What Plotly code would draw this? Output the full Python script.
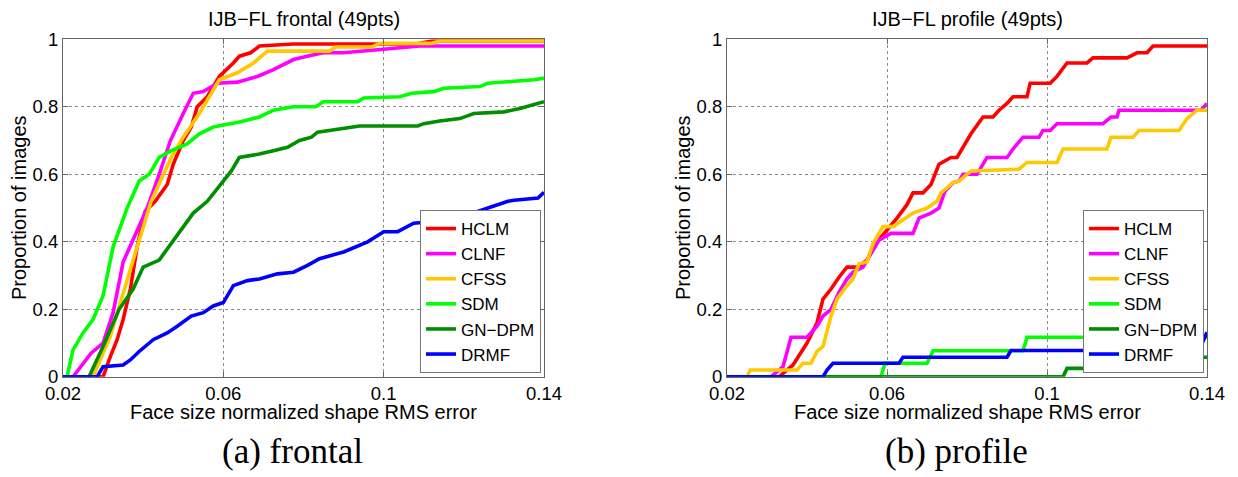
import plotly.graph_objects as go

METHODS = ["HCLM", "CLNF", "CFSS", "SDM", "GN−DPM", "DRMF"]
COLORS = ["#FF0000", "#FF00FF", "#FFC800", "#00FF00", "#008F00", "#0000FF"]

X_TICKS = [0.02, 0.06, 0.1, 0.14]
X_TICK_TEXT = ["0.02", "0.06", "0.1", "0.14"]
Y_TICKS = [0, 0.2, 0.4, 0.6, 0.8, 1]
Y_TICK_TEXT = ["0", "0.2", "0.4", "0.6", "0.8", "1"]

# ---- frontal ----
HCLM_F_X = [0.02, 0.030, 0.0318, 0.0335, 0.035, 0.0368, 0.0385, 0.0405, 0.043, 0.046, 0.0475, 0.050, 0.052, 0.0535, 0.056, 0.059, 0.0625, 0.064, 0.0668, 0.069, 0.0775, 0.108, 0.112, 0.14]
HCLM_F_Y = [0, 0, 0.06, 0.11, 0.17, 0.26, 0.385, 0.49, 0.52, 0.57, 0.63, 0.70, 0.74, 0.80, 0.83, 0.89, 0.93, 0.95, 0.96, 0.98, 0.986, 0.986, 0.995, 0.995]
CLNF_F_X = [0.02, 0.0225, 0.027, 0.030, 0.0325, 0.035, 0.038, 0.041, 0.044, 0.0468, 0.050, 0.0525, 0.055, 0.0585, 0.0635, 0.0685, 0.0725, 0.0775, 0.082, 0.085, 0.09, 0.0985, 0.109, 0.14]
CLNF_F_Y = [0, 0, 0.07, 0.10, 0.19, 0.34, 0.42, 0.50, 0.60, 0.70, 0.78, 0.84, 0.845, 0.87, 0.873, 0.89, 0.91, 0.94, 0.953, 0.96, 0.96, 0.97, 0.98, 0.98]
CFSS_F_X = [0.02, 0.0275, 0.0318, 0.035, 0.0385, 0.042, 0.047, 0.050, 0.054, 0.059, 0.0634, 0.0675, 0.071, 0.0865, 0.088, 0.097, 0.099, 0.112, 0.114, 0.14]
CFSS_F_Y = [0, 0, 0.12, 0.25, 0.385, 0.52, 0.65, 0.71, 0.78, 0.88, 0.90, 0.93, 0.965, 0.965, 0.977, 0.977, 0.988, 0.988, 0.995, 0.995]
SDM_F_X = [0.02, 0.021, 0.0225, 0.025, 0.0275, 0.030, 0.0325, 0.036, 0.039, 0.0415, 0.044, 0.047, 0.051, 0.054, 0.0575, 0.064, 0.069, 0.0725, 0.0775, 0.083, 0.085, 0.0935, 0.095, 0.104, 0.107, 0.1125, 0.115, 0.124, 0.126, 0.13, 0.1375, 0.14]
SDM_F_Y = [0, 0, 0.08, 0.13, 0.17, 0.24, 0.385, 0.50, 0.58, 0.60, 0.65, 0.67, 0.69, 0.72, 0.74, 0.755, 0.77, 0.79, 0.80, 0.80, 0.815, 0.815, 0.826, 0.83, 0.84, 0.845, 0.855, 0.86, 0.87, 0.873, 0.88, 0.885]
GN_F_X = [0.02, 0.0265, 0.030, 0.0325, 0.034, 0.0375, 0.040, 0.044, 0.047, 0.050, 0.0525, 0.056, 0.06, 0.062, 0.064, 0.069, 0.0725, 0.076, 0.079, 0.082, 0.0835, 0.089, 0.094, 0.1085, 0.11, 0.114, 0.119, 0.1225, 0.13, 0.134, 0.137, 0.14]
GN_F_Y = [0, 0, 0.09, 0.16, 0.20, 0.26, 0.325, 0.346, 0.395, 0.44, 0.485, 0.52, 0.58, 0.61, 0.65, 0.66, 0.67, 0.68, 0.70, 0.71, 0.725, 0.735, 0.743, 0.743, 0.75, 0.758, 0.765, 0.78, 0.785, 0.795, 0.805, 0.815]
DRMF_F_X = [0.02, 0.0285, 0.030, 0.035, 0.0368, 0.039, 0.0425, 0.046, 0.0485, 0.052, 0.055, 0.0575, 0.06, 0.0625, 0.066, 0.069, 0.0735, 0.0775, 0.081, 0.084, 0.09, 0.096, 0.1, 0.1035, 0.1075, 0.1125, 0.1175, 0.121, 0.126, 0.131, 0.1325, 0.1385, 0.14]
DRMF_F_Y = [0, 0, 0.03, 0.035, 0.05, 0.075, 0.11, 0.13, 0.15, 0.18, 0.19, 0.21, 0.22, 0.27, 0.285, 0.29, 0.305, 0.31, 0.33, 0.35, 0.37, 0.40, 0.43, 0.43, 0.455, 0.46, 0.46, 0.48, 0.50, 0.52, 0.523, 0.53, 0.547]

# ---- profile ----
HCLM_P_X = [0.02, 0.033, 0.0365, 0.040, 0.0425, 0.044, 0.046, 0.048, 0.050, 0.0525, 0.055, 0.0565, 0.06, 0.0625, 0.065, 0.0665, 0.069, 0.071, 0.073, 0.076, 0.0775, 0.079, 0.081, 0.084, 0.0865, 0.088, 0.09, 0.0915, 0.095, 0.0958, 0.1008, 0.1025, 0.105, 0.11, 0.1115, 0.12, 0.1225, 0.125, 0.1265, 0.14]
HCLM_P_Y = [0, 0, 0.035, 0.10, 0.16, 0.23, 0.26, 0.295, 0.325, 0.325, 0.345, 0.385, 0.435, 0.47, 0.51, 0.545, 0.545, 0.57, 0.63, 0.65, 0.65, 0.68, 0.72, 0.77, 0.77, 0.79, 0.81, 0.83, 0.83, 0.87, 0.87, 0.89, 0.93, 0.93, 0.945, 0.945, 0.96, 0.96, 0.98, 0.98]
CLNF_P_X = [0.02, 0.031, 0.034, 0.036, 0.040, 0.0425, 0.044, 0.046, 0.048, 0.050, 0.0515, 0.054, 0.0565, 0.058, 0.061, 0.0665, 0.068, 0.071, 0.073, 0.0745, 0.0765, 0.078, 0.079, 0.0825, 0.085, 0.09, 0.0915, 0.094, 0.098, 0.099, 0.1008, 0.1025, 0.114, 0.116, 0.1175, 0.118, 0.1385, 0.14]
CLNF_P_Y = [0, 0, 0.03, 0.117, 0.117, 0.15, 0.18, 0.20, 0.25, 0.29, 0.31, 0.325, 0.375, 0.405, 0.425, 0.425, 0.47, 0.485, 0.50, 0.55, 0.575, 0.58, 0.60, 0.60, 0.65, 0.65, 0.675, 0.71, 0.71, 0.73, 0.73, 0.75, 0.75, 0.77, 0.77, 0.79, 0.79, 0.81]
CFSS_P_X = [0.02, 0.025, 0.0258, 0.0375, 0.039, 0.041, 0.0425, 0.044, 0.046, 0.0475, 0.050, 0.0515, 0.053, 0.055, 0.0565, 0.059, 0.0615, 0.064, 0.0665, 0.07, 0.0725, 0.0735, 0.0765, 0.078, 0.081, 0.093, 0.095, 0.1025, 0.104, 0.115, 0.116, 0.1215, 0.123, 0.133, 0.135, 0.1375, 0.14]
CFSS_P_Y = [0, 0, 0.02, 0.02, 0.04, 0.04, 0.075, 0.09, 0.18, 0.23, 0.27, 0.29, 0.335, 0.34, 0.395, 0.445, 0.445, 0.465, 0.485, 0.50, 0.52, 0.545, 0.575, 0.58, 0.61, 0.615, 0.635, 0.635, 0.675, 0.675, 0.71, 0.71, 0.73, 0.73, 0.765, 0.79, 0.79]
SDM_P_X = [0.02, 0.0585, 0.0595, 0.07, 0.0715, 0.094, 0.095, 0.14]
SDM_P_Y = [0, 0, 0.04, 0.04, 0.077, 0.077, 0.117, 0.117]
GN_P_X = [0.02, 0.104, 0.105, 0.135, 0.137, 0.14]
GN_P_Y = [0, 0, 0.025, 0.025, 0.058, 0.058]
DRMF_P_X = [0.02, 0.044, 0.045, 0.0465, 0.063, 0.064, 0.09, 0.091, 0.138, 0.14]
DRMF_P_Y = [0, 0, 0.02, 0.04, 0.04, 0.058, 0.058, 0.078, 0.078, 0.132]

FRONTAL = [(HCLM_F_X, HCLM_F_Y), (CLNF_F_X, CLNF_F_Y), (CFSS_F_X, CFSS_F_Y),
           (SDM_F_X, SDM_F_Y), (GN_F_X, GN_F_Y), (DRMF_F_X, DRMF_F_Y)]
PROFILE = [(HCLM_P_X, HCLM_P_Y), (CLNF_P_X, CLNF_P_Y), (CFSS_P_X, CFSS_P_Y),
           (SDM_P_X, SDM_P_Y), (GN_P_X, GN_P_Y), (DRMF_P_X, DRMF_P_Y)]

TITLES = ["IJB−FL frontal (49pts)", "IJB−FL profile (49pts)"]
CAPTIONS = ["(a) frontal", "(b) profile"]
XLABEL = "Face size normalized shape RMS error"
YLABEL = "Proportion of images"

# The page body has an 8px default margin: size the figure to fit the window
OFF = 8
W, H = 1238 - OFF, 477 - OFF
SANS = "Liberation Sans, Arial, sans-serif"
SERIF = "Liberation Serif, Times New Roman, serif"


def fx(x_page):
    return (x_page - OFF) / W


def fy(y_page):
    return (H - (y_page - OFF)) / H


fig = go.Figure()
for panel, (data, xa, ya, leg) in enumerate([(FRONTAL, "x", "y", "legend"), (PROFILE, "x2", "y2", "legend2")]):
    for name, color, (xs, ys) in zip(METHODS, COLORS, data):
        fig.add_trace(go.Scatter(
            x=xs, y=ys, mode="lines", name=name, xaxis=xa, yaxis=ya, legend=leg,
            line=dict(color=color, width=3.6), cliponaxis=False, hoverinfo="skip"))

px_dom = [(63, 544), (727, 1207)]
y_dom = [fy(376.8), fy(39.3)]

axis_common = dict(
    showline=True, linecolor="#666666", linewidth=1, mirror="ticks",
    ticks="inside", ticklen=5, tickcolor="#666666", tickwidth=1,
    showgrid=True, gridcolor="#8a8a8a", griddash="dot", gridwidth=1,
    zeroline=False, automargin=False,
    tickfont=dict(family=SANS, size=18.5, color="#000000"),
)
layout = dict(
    width=W, height=H, autosize=False,
    margin=dict(l=0, r=0, t=0, b=0, pad=0),
    paper_bgcolor="white", plot_bgcolor="white",
    showlegend=True,
)
for i, (a, b) in enumerate(px_dom):
    sfx = "" if i == 0 else str(i + 1)
    layout["xaxis" + sfx] = dict(axis_common, domain=[fx(a), fx(b)], range=[0.02, 0.14],
                                 tickvals=X_TICKS, ticktext=X_TICK_TEXT,
                                 anchor="y" + sfx)
    layout["yaxis" + sfx] = dict(axis_common, domain=y_dom, range=[0, 1],
                                 tickvals=Y_TICKS, ticktext=Y_TICK_TEXT,
                                 anchor="x" + sfx)

legend_common = dict(
    bgcolor="white", bordercolor="#777777", borderwidth=1,
    font=dict(family=SANS, size=17, color="#000000"),
    xanchor="right", yanchor="bottom", y=fy(373),
    tracegroupgap=0, itemclick=False, itemdoubleclick=False,
)
layout["legend"] = dict(legend_common, x=fx(541))
layout["legend2"] = dict(legend_common, x=fx(1204))
fig.update_layout(**layout)

annotations = []
for i, (a, b) in enumerate(px_dom):
    cx = (a + b) / 2
    annotations.append(dict(text=TITLES[i], x=fx(cx), y=fy(19), xref="paper", yref="paper",
                            showarrow=False, xanchor="center", yanchor="middle", borderpad=0,
                            font=dict(family=SANS, size=20, color="#000000")))
    annotations.append(dict(text=XLABEL, x=fx(cx), y=fy(412), xref="paper", yref="paper",
                            showarrow=False, xanchor="center", yanchor="middle", borderpad=0,
                            font=dict(family=SANS, size=20, color="#000000")))
    annotations.append(dict(text=YLABEL, x=fx(a - 44), y=fy(208), xref="paper", yref="paper",
                            showarrow=False, xanchor="center", yanchor="middle", textangle=-90,
                            borderpad=0, font=dict(family=SANS, size=20, color="#000000")))
    annotations.append(dict(text=CAPTIONS[i], x=fx(cx - 11), y=fy(451), xref="paper", yref="paper",
                            showarrow=False, xanchor="center", yanchor="middle",
                            font=dict(family=SERIF, size=35, color="#000000")))
fig.update_layout(annotations=annotations)

fig.write_html("out.html")
